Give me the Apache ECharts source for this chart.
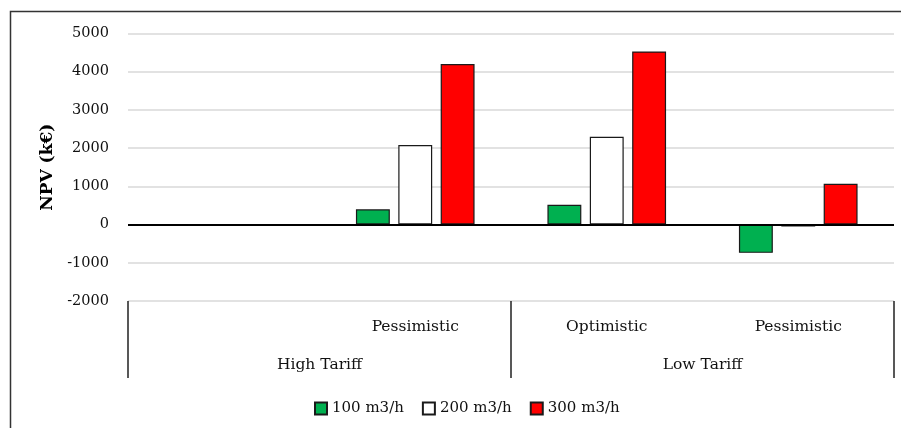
<!DOCTYPE html>
<html>
<head>
<meta charset="utf-8">
<script src="https://cdn.jsdelivr.net/npm/echarts@6/dist/echarts.min.js"></script>
<style>html,body{margin:0;padding:0;background:#fff}#c{width:901px;height:428px}</style>
</head>
<body>
<div id="c"></div>
<script>
const scenarios = ['', 'Pessimistic', 'Optimistic', 'Pessimistic'];
const tariffs = ['High Tariff', 'Low Tariff'];
const seriesNames = ['100 m3/h', '200 m3/h', '300 m3/h'];
const flow100 = [null, 400, 520, -740];
const flow200 = [null, 2080, 2300, -50];
const flow300 = [null, 4200, 4530, 1070];
const yTicks = {min: -2000, max: 5000, interval: 1000};

const FONT = 'DejaVu Serif';
const colors = ['#00B050', '#FFFFFF', '#FF0000'];
const values = [flow100, flow200, flow300];

const chart = echarts.init(document.getElementById('c'), null, {renderer: 'canvas'});
const series = seriesNames.map((n, i) => ({
  name: n,
  type: 'bar',
  xAxisIndex: 0,
  data: values[i],
  barWidth: '17.7%',
  barGap: '25%',
  itemStyle: {color: colors[i], borderColor: '#1a1a1a', borderWidth: 1.2},
  emphasis: {disabled: true},
  markLine: i === 2 ? {
    silent: true,
    symbol: 'none',
    label: {show: false},
    lineStyle: {color: '#000', width: 2, type: 'solid'},
    data: [{yAxis: 0}]
  } : undefined
}));

chart.setOption({
  animation: false,
  backgroundColor: '#fff',
  grid: {left: 128, right: 7, top: 33.5, bottom: 127},
  legend: {
    data: seriesNames,
    top: 396,
    left: 309,
    itemWidth: 12,
    itemHeight: 12,
    itemGap: 18,
    icon: 'rect',
    textStyle: {fontFamily: FONT, fontSize: 15, color: '#111'}
  },
  xAxis: [
    {
      type: 'category',
      position: 'bottom',
      data: scenarios,
      axisLine: {show: false, onZero: false},
      axisTick: {show: false},
      axisLabel: {margin: 18, fontFamily: FONT, fontSize: 15.5, color: '#111', interval: 0}
    },
    {
      type: 'category',
      position: 'bottom',
      data: tariffs,
      axisLine: {show: false, onZero: false},
      axisTick: {show: true, length: 77, lineStyle: {color: '#222', width: 1.5}},
      axisLabel: {margin: 56, fontFamily: FONT, fontSize: 15.5, color: '#111', interval: 0},
      splitLine: {show: false}
    }
  ],
  yAxis: {
    type: 'value',
    min: yTicks.min,
    max: yTicks.max,
    interval: yTicks.interval,
    name: 'NPV (k€)',
    nameLocation: 'middle',
    nameGap: 68,
    nameTextStyle: {fontFamily: FONT, fontSize: 17, fontWeight: 'bold', color: '#000'},
    axisLine: {show: false},
    axisTick: {show: false},
    axisLabel: {margin: 19, fontFamily: FONT, fontSize: 14.5, color: '#111', formatter: v => String(v)},
    splitLine: {lineStyle: {color: '#d9d9d9', width: 1.5}}
  },
  graphic: [{
    type: 'polyline',
    silent: true,
    shape: {points: [[10.5, 428], [10.5, 11.5], [901, 11.5]]},
    style: {stroke: '#333', lineWidth: 1.5, fill: null}
  }],
  series: series
});
</script>
</body>
</html>
